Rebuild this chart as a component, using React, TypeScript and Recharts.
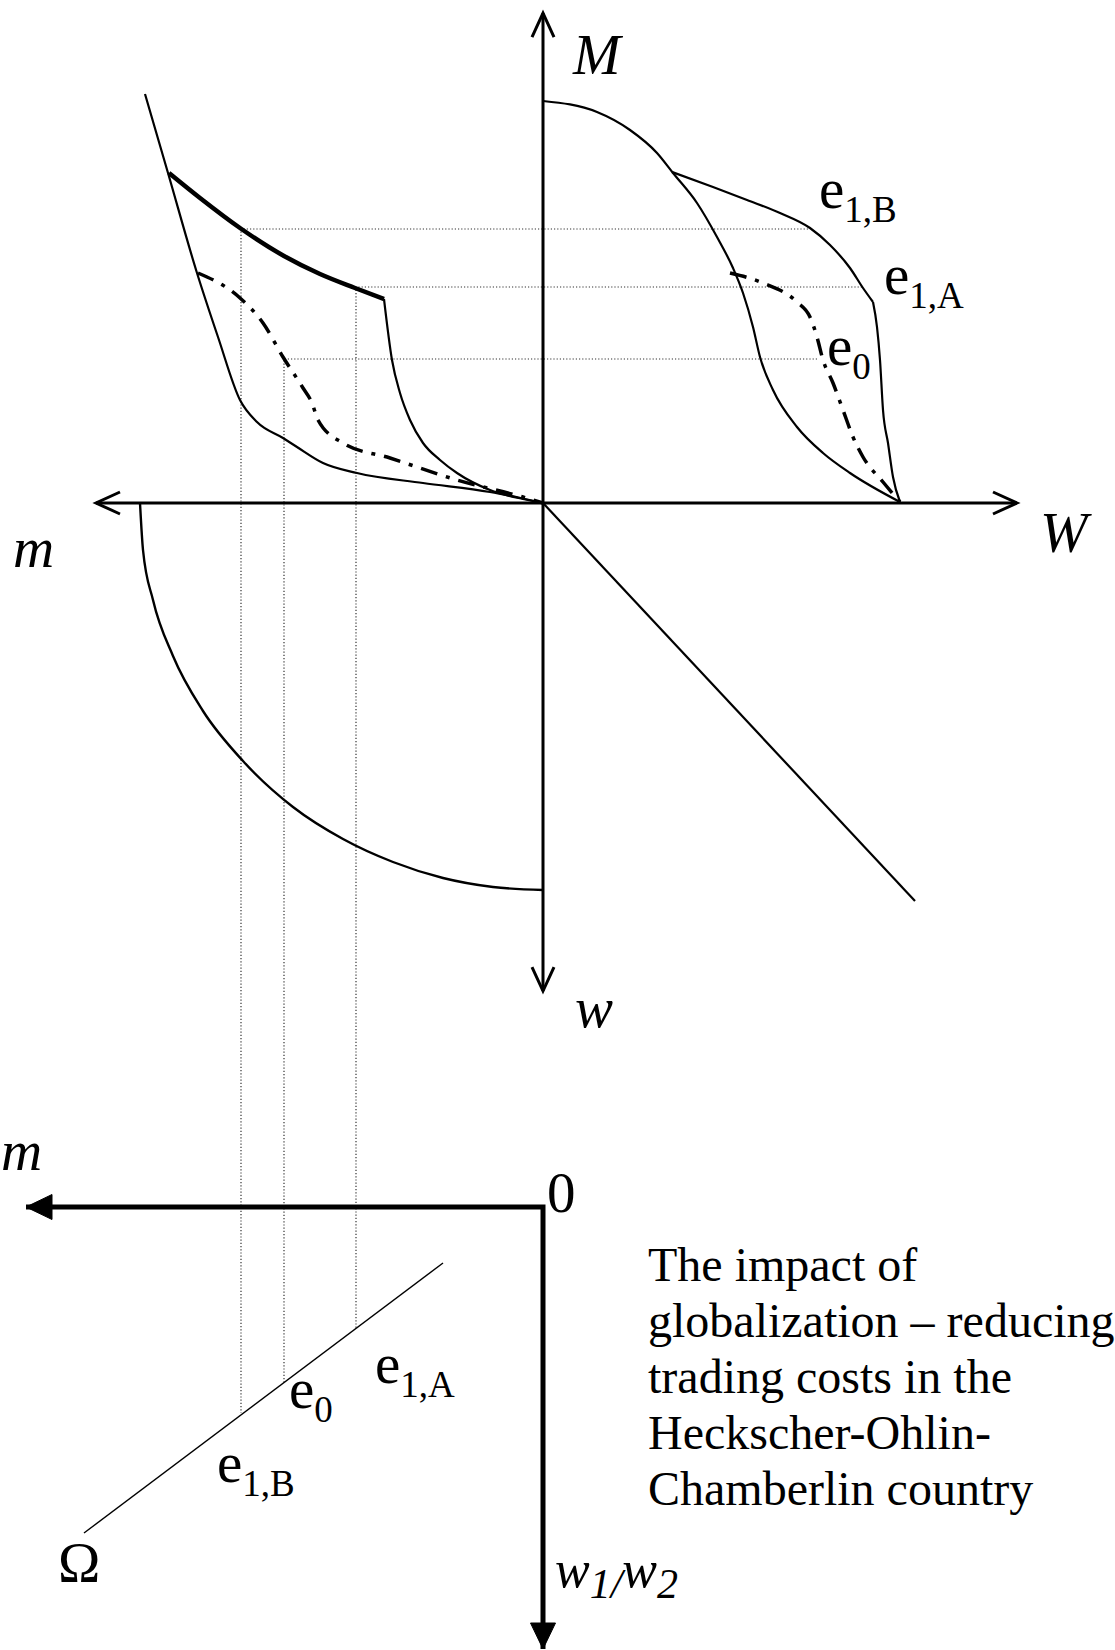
import { ComposedChart, Line, XAxis, YAxis } from "recharts";

type Pt = { x: number; y: number };
type Label = { x: number; y: number; parts: string[] };

// one unit = 10px; origin is where the upper M/W/m/w axes cross
const upperHorizontal: Pt[] = [{ x: -44.7, y: 0 }, { x: 47.4, y: 0 }];
const upperVertical: Pt[] = [{ x: 0, y: 49.0 }, { x: 0, y: -48.8 }];
const lowerAxes: Pt[] = [{ x: -51.7, y: -70.4 }, { x: 0, y: -70.4 }, { x: 0, y: -114.6 }];

// upper-left quadrant (m, M)
const leftFrontier: Pt[] = [
  { x: -39.8, y: 40.9 }, { x: -37.5, y: 33.0 }, { x: -34.6, y: 23.0 }, { x: -32.5, y: 16.6 },
  { x: -30.3, y: 10.3 }, { x: -28.6, y: 8.1 }, { x: -26.0, y: 6.5 }, { x: -24.6, y: 5.6 },
  { x: -22.0, y: 4.0 }, { x: -18.6, y: 3.0 }, { x: -12.0, y: 2.0 }, { x: -5.3, y: 1.1 }, { x: 0, y: 0 },
];
const leftE1: Pt[] = [
  { x: -37.4, y: 33.0 }, { x: -34.3, y: 30.5 }, { x: -30.3, y: 27.5 }, { x: -25.9, y: 24.7 },
  { x: -22.3, y: 22.9 }, { x: -18.8, y: 21.5 }, { x: -15.9, y: 20.4 },
];
const leftE1Drop: Pt[] = [
  { x: -15.9, y: 20.4 }, { x: -15.1, y: 14.3 }, { x: -14.3, y: 11.0 }, { x: -13.3, y: 8.3 },
  { x: -12.0, y: 6.0 }, { x: -10.3, y: 4.3 }, { x: -8.6, y: 3.0 }, { x: -5.3, y: 1.3 },
  { x: -2.0, y: 0.4 }, { x: 0, y: 0 },
];
const leftE0: Pt[] = [
  { x: -34.5, y: 23.0 }, { x: -30.3, y: 20.5 }, { x: -28.0, y: 18.0 }, { x: -26.0, y: 14.6 },
  { x: -24.0, y: 11.5 }, { x: -23.1, y: 10.0 }, { x: -22.5, y: 8.3 }, { x: -20.0, y: 6.0 },
  { x: -15.3, y: 4.5 }, { x: -8.6, y: 2.3 }, { x: -2.0, y: 0.6 }, { x: 0, y: 0 },
];

// upper-right quadrant (W, M)
const rightFrontier: Pt[] = [
  { x: 0, y: 40.2 }, { x: 5.4, y: 39.1 }, { x: 8.7, y: 37.3 }, { x: 11.4, y: 35.0 },
  { x: 13.0, y: 33.0 }, { x: 15.4, y: 30.0 }, { x: 17.4, y: 26.6 }, { x: 19.0, y: 23.5 },
  { x: 20.0, y: 21.0 }, { x: 21.0, y: 17.6 }, { x: 21.7, y: 14.6 }, { x: 23.0, y: 11.3 },
  { x: 25.4, y: 7.6 }, { x: 28.0, y: 5.0 }, { x: 30.7, y: 3.0 }, { x: 35.7, y: 0.1 },
];
const rightE1: Pt[] = [
  { x: 12.9, y: 33.1 }, { x: 17.0, y: 31.6 }, { x: 20.4, y: 30.3 }, { x: 23.7, y: 29.0 },
  { x: 26.7, y: 27.5 }, { x: 28.7, y: 25.8 }, { x: 30.7, y: 23.5 }, { x: 32.0, y: 21.5 },
  { x: 33.0, y: 20.1 },
];
const rightE1Drop: Pt[] = [
  { x: 33.0, y: 20.1 }, { x: 33.4, y: 17.6 }, { x: 33.7, y: 14.3 }, { x: 34.0, y: 9.3 },
  { x: 34.5, y: 6.0 }, { x: 35.0, y: 2.6 }, { x: 35.7, y: 0.1 },
];
const rightE0: Pt[] = [
  { x: 18.7, y: 23.0 }, { x: 22.0, y: 22.0 }, { x: 25.4, y: 20.1 }, { x: 26.7, y: 18.6 },
  { x: 27.4, y: 16.6 }, { x: 28.0, y: 14.3 }, { x: 29.0, y: 12.0 }, { x: 30.0, y: 9.3 },
  { x: 31.0, y: 6.6 }, { x: 32.0, y: 4.6 }, { x: 34.0, y: 2.1 }, { x: 35.7, y: 0.1 },
];

// lower quadrants
const quarterArc: Pt[] = [
  { x: -40.3, y: 0 }, { x: -40.0, y: -4.7 }, { x: -39.0, y: -9.7 }, { x: -37.0, y: -15.3 },
  { x: -34.0, y: -20.8 }, { x: -30.0, y: -25.8 }, { x: -25.0, y: -30.4 }, { x: -20.0, y: -33.6 },
  { x: -15.0, y: -35.9 }, { x: -10.0, y: -37.5 }, { x: -5.0, y: -38.4 }, { x: 0, y: -38.7 },
];
const diagonal: Pt[] = [{ x: 0, y: 0 }, { x: 37.2, y: -39.8 }];
const omegaLine: Pt[] = [{ x: -45.9, y: -103.0 }, { x: -10.0, y: -76.0 }];

// dotted projections: right curve -> left curve -> Omega line
const projE1B: Pt[] = [{ x: 26.5, y: 27.4 }, { x: -30.2, y: 27.4 }, { x: -30.2, y: -91.0 }];
const projE1A: Pt[] = [{ x: 31.9, y: 21.6 }, { x: -18.7, y: 21.6 }, { x: -18.7, y: -82.5 }];
const projE0: Pt[] = [{ x: 27.4, y: 14.4 }, { x: -25.9, y: 14.4 }, { x: -25.9, y: -88.0 }];

const italicLabels: Label[] = [
  { x: 3.0, y: 42.9, parts: ["M"] },
  { x: 49.7, y: -4.9, parts: ["W"] },
  { x: -53.0, y: -6.4, parts: ["m"] },
  { x: 3.2, y: -52.4, parts: ["w"] },
  { x: -54.2, y: -66.7, parts: ["m"] },
];
const ratioLabel: Label[] = [{ x: 1.2, y: -108.4, parts: ["w", "_1/", "w", "_2"] }];
const pointLabels: Label[] = [
  { x: 27.6, y: 29.5, parts: ["e", "_1,B"] },
  { x: 34.1, y: 20.9, parts: ["e", "_1,A"] },
  { x: 28.4, y: 13.8, parts: ["e", "_0"] },
  { x: -16.8, y: -88.0, parts: ["e", "_1,A"] },
  { x: -25.4, y: -90.5, parts: ["e", "_0"] },
  { x: -32.6, y: -97.9, parts: ["e", "_1,B"] },
  { x: 0.4, y: -70.9, parts: ["0"] },
  { x: -48.5, y: -107.9, parts: ["\u03a9"] },
];
const captionLines: Label[] = [
  { x: 10.5, y: -77.8, parts: ["The impact of"] },
  { x: 10.5, y: -83.4, parts: ["globalization \u2013 reducing"] },
  { x: 10.5, y: -89.0, parts: ["trading costs in the"] },
  { x: 10.5, y: -94.6, parts: ["Heckscher-Ohlin-"] },
  { x: 10.5, y: -100.2, parts: ["Chamberlin country"] },
];

const FONT = "'Liberation Serif', 'Times New Roman', serif";

const textDot =
  (size: number, sub: number, drop: number, italic: boolean, tag: string) => (props: any) => {
    const { cx, cy, payload, index } = props;
    let shift = 0;
    return (
      <text
        key={`${tag}-${index}`}
        x={cx}
        y={cy}
        fontFamily={FONT}
        fontSize={size}
        fontStyle={italic ? "italic" : "normal"}
        fill="#000"
      >
        {(payload.parts as string[]).map((p, i) => {
          const isSub = p.startsWith("_");
          const target = isSub ? drop : 0;
          const dy = target - shift;
          shift = target;
          return (
            <tspan key={i} dy={dy} fontSize={isSub ? sub : size}>
              {isSub ? p.slice(1) : p}
            </tspan>
          );
        })}
      </text>
    );
  };

// arrowheads drawn at given point indexes; angle 0 = pointing right
const arrowDot = (ends: Record<number, number>, filled: boolean, tag: string) => (props: any) => {
  const { cx, cy, index } = props;
  const angle = ends[index];
  if (angle === undefined) return <g key={`${tag}-${index}`} />;
  const d = filled
    ? `M${cx},${cy} L${cx - 26},${cy - 12.5} L${cx - 26},${cy + 12.5} Z`
    : `M${cx - 24},${cy - 11} L${cx},${cy} L${cx - 24},${cy + 11}`;
  return (
    <path
      key={`${tag}-${index}`}
      d={d}
      transform={`rotate(${angle} ${cx} ${cy})`}
      fill={filled ? "#000" : "none"}
      stroke="#000"
      strokeWidth={filled ? 1 : 3}
      strokeLinejoin="miter"
    />
  );
};

const common = {
  dataKey: "y",
  isAnimationActive: false,
  legendType: "none" as const,
  activeDot: false,
};

const DASH_DOT = "17 9 4 9";

export default function App() {
  return (
    <div style={{ position: "absolute", left: 0, top: 0, width: 1115, height: 1650, background: "#fff" }}>
      <ComposedChart width={1115} height={1650} margin={{ top: 0, right: 0, bottom: 0, left: 0 }}>
        <XAxis type="number" dataKey="x" domain={[-54.3, 57.2]} hide allowDataOverflow />
        <YAxis type="number" domain={[-114.7, 50.3]} hide allowDataOverflow />

        {/* dotted projections */}
        {[projE1B, projE1A, projE0].map((d, i) => (
          <Line key={`p${i}`} {...common} data={d} type="linear" stroke="#333" strokeWidth={1.2} strokeDasharray="1.2 2" dot={false} />
        ))}

        {/* axes */}
        <Line {...common} data={upperHorizontal} type="linear" stroke="#000" strokeWidth={3} dot={arrowDot({ 0: 180, 1: 0 }, false, "uh")} />
        <Line {...common} data={upperVertical} type="linear" stroke="#000" strokeWidth={3} dot={arrowDot({ 0: -90, 1: 90 }, false, "uv")} />
        <Line {...common} data={lowerAxes} type="linear" stroke="#000" strokeWidth={5} dot={arrowDot({ 0: 180, 2: 90 }, true, "la")} />

        {/* upper-left */}
        <Line {...common} data={leftFrontier} type="monotone" stroke="#000" strokeWidth={2.2} dot={false} />
        <Line {...common} data={leftE1} type="monotone" stroke="#000" strokeWidth={4.5} dot={false} />
        <Line {...common} data={leftE1Drop} type="monotone" stroke="#000" strokeWidth={2.2} dot={false} />
        <Line {...common} data={leftE0} type="monotone" stroke="#000" strokeWidth={3.5} strokeDasharray={DASH_DOT} dot={false} />

        {/* upper-right */}
        <Line {...common} data={rightFrontier} type="monotone" stroke="#000" strokeWidth={2.2} dot={false} />
        <Line {...common} data={rightE1} type="monotone" stroke="#000" strokeWidth={2.2} dot={false} />
        <Line {...common} data={rightE1Drop} type="monotone" stroke="#000" strokeWidth={2.2} dot={false} />
        <Line {...common} data={rightE0} type="monotone" stroke="#000" strokeWidth={3.5} strokeDasharray={DASH_DOT} dot={false} />

        {/* lower quadrants */}
        <Line {...common} data={quarterArc} type="monotone" stroke="#000" strokeWidth={2.4} dot={false} />
        <Line {...common} data={diagonal} type="linear" stroke="#000" strokeWidth={2.2} dot={false} />
        <Line {...common} data={omegaLine} type="linear" stroke="#000" strokeWidth={1.4} dot={false} />

        {/* text */}
        <Line {...common} data={italicLabels} stroke="none" dot={textDot(57, 38, 14, true, "il")} />
        <Line {...common} data={ratioLabel} stroke="none" dot={textDot(52, 42, 11, true, "rl")} />
        <Line {...common} data={pointLabels} stroke="none" dot={textDot(57, 37, 14, false, "pl")} />
        <Line {...common} data={captionLines} stroke="none" dot={textDot(48, 48, 0, false, "cl")} />
      </ComposedChart>
    </div>
  );
}
